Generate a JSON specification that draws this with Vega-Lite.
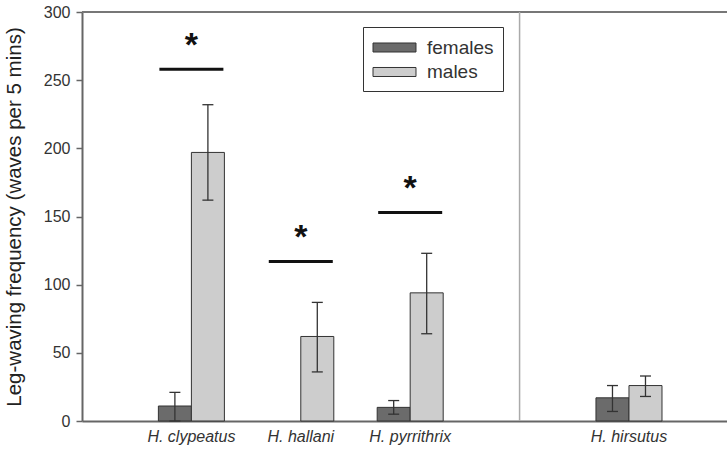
{
  "$schema": "https://vega.github.io/schema/vega-lite/v6.json",
  "width": 645,
  "height": 409,
  "autosize": {"type": "none"},
  "padding": {"left": 82, "top": 12, "right": 0, "bottom": 29},
  "background": "white",
  "config": {
    "font": "Liberation Sans",
    "view": {"stroke": null},
    "axis": {"labelFont": "Liberation Sans", "titleFont": "Liberation Sans", "labelColor": "#333333", "titleColor": "#222222", "domainColor": "#666666", "tickColor": "#666666", "domainWidth": 2, "tickWidth": 1.5, "grid": false}
  },
  "datasets": {
    "bars": [
      {"species": "H. clypeatus", "sex": "females", "value": 11, "lo": 0, "hi": 21},
      {"species": "H. clypeatus", "sex": "males", "value": 197, "lo": 162, "hi": 232},
      {"species": "H. hallani", "sex": "males", "value": 62, "lo": 36, "hi": 87},
      {"species": "H. pyrrithrix", "sex": "females", "value": 10, "lo": 5, "hi": 15},
      {"species": "H. pyrrithrix", "sex": "males", "value": 94, "lo": 64, "hi": 123},
      {"species": "H. hirsutus", "sex": "females", "value": 17, "lo": 7, "hi": 26},
      {"species": "H. hirsutus", "sex": "males", "value": 26, "lo": 18, "hi": 33}
    ],
    "sig": [
      {"species": "H. clypeatus", "level": 258, "mark": "*"},
      {"species": "H. hallani", "level": 117, "mark": "*"},
      {"species": "H. pyrrithrix", "level": 153, "mark": "*"}
    ]
  },
  "layer": [
    {
      "data": {"values": [{"y": 300}]},
      "mark": {"type": "rule", "color": "#777777", "strokeWidth": 2},
      "encoding": {"y": {"field": "y", "type": "quantitative", "scale": {"domain": [0, 300]}}}
    },
    {
      "data": {"values": [{"species": "gap"}]},
      "mark": {"type": "rule", "color": "#aaaaaa", "strokeWidth": 1.5},
      "encoding": {"x": {"field": "species", "type": "nominal", "scale": {"type": "band", "domain": ["H. clypeatus", "H. hallani", "H. pyrrithrix", "gap", "H. hirsutus"], "paddingInner": 0, "paddingOuter": 0.448, "align": 0.558}}}
    },
    {
      "data": {"name": "bars"},
      "mark": {"type": "bar", "stroke": "#333333", "strokeWidth": 1},
      "encoding": {
        "x": {"field": "species", "type": "nominal", "sort": null,
              "scale": {"type": "band", "domain": ["H. clypeatus", "H. hallani", "H. pyrrithrix", "gap", "H. hirsutus"], "paddingInner": 0, "paddingOuter": 0.448, "align": 0.558},
              "axis": {"title": null, "ticks": false, "bandPosition": 0.5, "labelAngle": 0, "labelAlign": "center", "labelFontSize": 16, "labelFontStyle": "italic", "labelPadding": 15, "labelExpr": "datum.value == 'gap' ? '' : datum.value"}},
        "xOffset": {"field": "sex", "type": "nominal", "scale": {"domain": ["females", "males"], "paddingInner": 0, "paddingOuter": 0.657}},
        "y": {"field": "value", "type": "quantitative",
              "scale": {"domain": [0, 300], "nice": false},
              "axis": {"title": "Leg-waving frequency (waves per 5 mins)", "values": [0, 50, 100, 150, 200, 250, 300], "tickSize": 6, "labelFontSize": 16, "labelPadding": 6, "titleFontSize": 20.5, "titleFontWeight": "normal", "titlePadding": 19}},
        "color": {"field": "sex", "type": "nominal",
                  "scale": {"domain": ["females", "males"], "range": ["#6b6b6b", "#cdcdcd"]},
                  "legend": {"title": null, "orient": "none", "legendX": 281, "legendY": 15, "direction": "vertical",
                             "symbolType": "M-2,-0.42H2V0.42H-2Z", "symbolSize": 462, "symbolOffset": 11, "symbolStrokeColor": "#333333", "symbolStrokeWidth": 1,
                             "labelFontSize": 19, "labelColor": "#333333", "labelOffset": 21, "rowPadding": 2.5,
                             "strokeColor": "#333333", "padding": 9, "fillColor": "white"}}
      }
    },
    {
      "data": {"name": "bars"},
      "mark": {"type": "rule", "color": "#333333", "strokeWidth": 1.3},
      "encoding": {
        "x": {"field": "species", "type": "nominal"},
        "xOffset": {"field": "sex", "type": "nominal"},
        "y": {"field": "lo", "type": "quantitative"},
        "y2": {"field": "hi"}
      }
    },
    {
      "data": {"name": "bars"},
      "mark": {"type": "tick", "color": "#333333", "opacity": 1, "thickness": 1.3, "size": 11},
      "encoding": {
        "x": {"field": "species", "type": "nominal"},
        "xOffset": {"field": "sex", "type": "nominal"},
        "y": {"field": "hi", "type": "quantitative"}
      }
    },
    {
      "data": {"name": "bars"},
      "mark": {"type": "tick", "color": "#333333", "opacity": 1, "thickness": 1.3, "size": 11},
      "encoding": {
        "x": {"field": "species", "type": "nominal"},
        "xOffset": {"field": "sex", "type": "nominal"},
        "y": {"field": "lo", "type": "quantitative"}
      }
    },
    {
      "data": {"name": "sig"},
      "mark": {"type": "tick", "color": "#111111", "opacity": 1, "thickness": 3, "size": 64},
      "encoding": {
        "x": {"field": "species", "type": "nominal"},
        "y": {"field": "level", "type": "quantitative"}
      }
    },
    {
      "data": {"name": "sig"},
      "mark": {"type": "text", "color": "#111111", "fontSize": 34, "fontWeight": "bold", "baseline": "alphabetic", "dy": -13},
      "encoding": {
        "x": {"field": "species", "type": "nominal"},
        "y": {"field": "level", "type": "quantitative"},
        "text": {"field": "mark"}
      }
    }
  ]
}
